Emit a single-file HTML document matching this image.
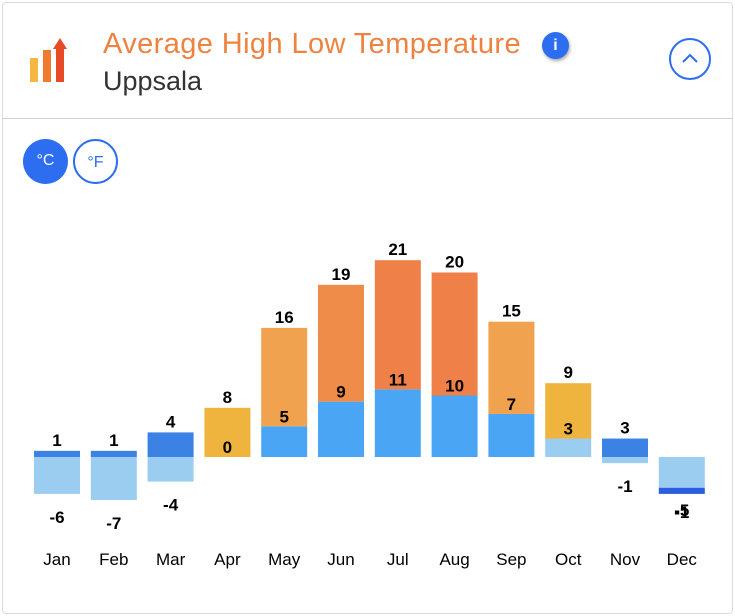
<!DOCTYPE html>
<html><head><meta charset="utf-8">
<style>
body{margin:0;width:735px;height:616px;background:#fff;font-family:"Liberation Sans","Noto Sans CJK SC",sans-serif;overflow:hidden}
.card{position:absolute;left:2px;top:2px;width:729px;height:610px;border:1px solid #ddd;border-radius:4px;background:#fff}
.title{position:absolute;left:103px;top:28px;font-size:29px;letter-spacing:0.4px;color:#ee8240}
.sub{position:absolute;left:103px;top:66px;font-size:27px;color:#333}
.hr{position:absolute;left:2px;top:118px;width:731px;height:1px;background:#d0d0d0}
.info{position:absolute;left:542px;top:32px;width:27px;height:27px;border-radius:50%;background:#2d6df0;color:#fff;font-weight:bold;font-size:16px;text-align:center;line-height:27px;box-shadow:1px 2px 3px rgba(0,0,0,.35)}
.col{position:absolute;left:669px;top:38px;width:42px;height:42px;border:2px solid #2d6df0;border-radius:50%;box-sizing:border-box}
.u{position:absolute;top:139px;width:45px;height:45px;border-radius:50%;box-sizing:border-box;text-align:center;line-height:43px;font-size:16px}
</style></head><body>
<div class="card"></div>
<svg style="position:absolute;left:28px;top:36px" width="50" height="48">
<rect x="2" y="22" width="8" height="24" fill="#f5b642"/><rect x="15" y="14" width="8" height="32" fill="#f07a30"/><rect x="28" y="12" width="8" height="34" fill="#e84a25"/><polygon points="25,13 32,2 39,13" fill="#e84a25"/></svg>
<div class="title">Average High Low Temperature</div>
<div class="sub">Uppsala</div>
<div class="info">i</div>
<div class="col"><svg width="38" height="38"><polyline points="12,22 19,15 26,22" fill="none" stroke="#2d6df0" stroke-width="2"/></svg></div>
<div class="hr"></div>
<div class="u" style="left:23px;background:#2d6df0;color:#fff">°C</div>
<div class="u" style="left:73px;border:2px solid #2d6df0;color:#2d6df0">°F</div>
<svg id="chart" style="position:absolute;left:0;top:0" width="735" height="616"></svg>
<script>
const months=["Jan","Feb","Mar","Apr","May","Jun","Jul","Aug","Sep","Oct","Nov","Dec"];
const highs=[1,1,4,8,16,19,21,20,15,9,3,-1];
const lows=[-6,-7,-4,0,5,9,11,10,7,3,-1,-5];
const svg=document.getElementById('chart');
const NS='http://www.w3.org/2000/svg';
const zeroY=457, unit=6.15, x0=34, step=56.8, bw=46;
function xPos(i){return x0+i*step;}
function yPos(v){return zeroY-v*unit;}
function highColor(v){if(v<0)return '#2a5de0';if(v<=5)return '#3b82e4';if(v<=10)return '#efb43e';if(v<=16)return '#f0a24e';if(v<=19)return '#ef8c4a';return '#ee8048';}
function lowColor(v){return v>=5?'#4aa6f5':'#9bcdf0';}
function rect(x,y1,y2,fill,name){const r=document.createElementNS(NS,'rect');r.setAttribute('x',x);r.setAttribute('y',Math.min(y1,y2));r.setAttribute('width',bw);r.setAttribute('height',Math.abs(y2-y1));r.setAttribute('fill',fill);


svg.appendChild(r);}
function text(x,y,s,name,bold){const t=document.createElementNS(NS,'text');t.setAttribute('x',x);t.setAttribute('y',y);t.setAttribute('text-anchor','middle');t.setAttribute('font-size','17');t.setAttribute('font-family','"Liberation Sans",sans-serif');if(bold)t.setAttribute('font-weight','bold');t.textContent=s;


svg.appendChild(t);}
months.forEach((m,i)=>{
  const x=xPos(i), lo=lows[i], hi=highs[i];
  const ly=yPos(lo);
  rect(x,zeroY,ly,lowColor(lo),'low-bar-'+m.toLowerCase());
  let hy;
  if(hi>=0){hy=ly-hi*unit; if(lo<0){hy=yPos(hi);rect(x,zeroY,hy,highColor(hi),'high-bar-'+m.toLowerCase());}else rect(x,ly,hy,highColor(hi),'high-bar-'+m.toLowerCase());}
  else{hy=ly-hi*unit;rect(x,ly,hy,highColor(hi),'high-bar-'+m.toLowerCase());}
  const cx=x+bw/2;
  if(hi>=0) text(cx,hy-5,String(hi),'high-label-'+m.toLowerCase(),true);
  else text(cx,hy+24,String(hi),'high-label-'+m.toLowerCase(),true);
  if(lo>=0) text(cx,ly-4,String(lo),'low-label-'+m.toLowerCase(),true);
  else text(cx,(hi<0?hy+22:ly+29),String(lo),'low-label-'+m.toLowerCase(),true);
  text(cx,565,m,'month-label-'+m.toLowerCase(),false);
});
</script>
</body></html>
